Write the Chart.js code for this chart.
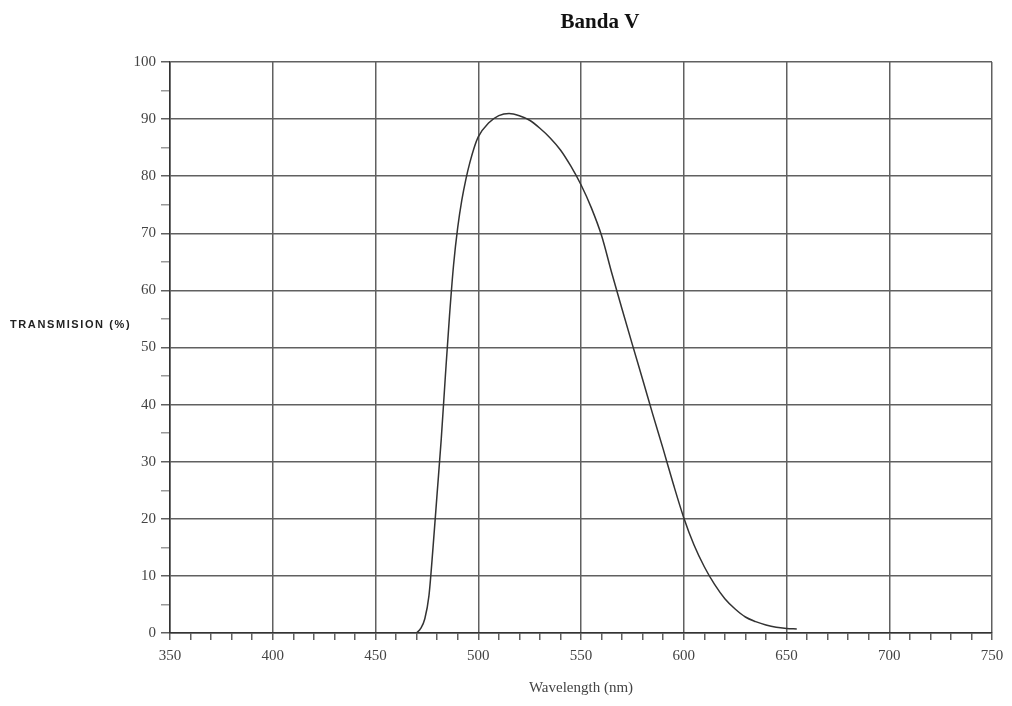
<!DOCTYPE html>
<html>
<head>
<meta charset="utf-8">
<script src="https://cdn.jsdelivr.net/npm/chart.js@4.4.0/dist/chart.umd.min.js"></script>
<style>
  html, body { margin: 0; padding: 0; background: #fff; }
  #wrap { width: 1012px; height: 706px; position: relative; }
</style>
</head>
<body>
<div id="wrap"><canvas id="myChart" width="1012" height="706"></canvas></div>
<script>
const chartTitle = 'Banda V'
const yTitle = 'TRANSMISION (%)'
const xTitle = 'Wavelength (nm)'

// curve
const wavelength = [470, 472, 474, 476, 478, 480, 482, 484, 486, 488, 490, 492, 494, 496, 498, 500,
  505, 510, 515, 520, 525, 530, 535, 540, 545, 550, 555, 560, 565, 570, 575, 580, 585, 590, 595,
  600, 605, 610, 615, 620, 625, 630, 635, 640, 645, 650, 655]
const transmission = [0, 0.8, 2.5, 6.5, 15, 24.5, 34, 45, 55.5, 64.5, 71, 75.8, 79.5, 82.5, 85, 86.9,
  89.3, 90.6, 91, 90.6, 89.8, 88.4, 86.7, 84.6, 81.8, 78.5, 74.5, 69.6, 63, 56.7, 50.5, 44.4, 38.2, 32.2, 26,
  20.2, 15.4, 11.6, 8.5, 6, 4.2, 2.8, 2, 1.4, 1, 0.8, 0.7]

const xMin = 350
const xMax = 750
const yMin = 0
const yMax = 100

const gridColor = '#606060'
const textColor = '#444'

const points = wavelength.map((w, i) => ({ x: w, y: transmission[i] }))

// title and horizontal y label are drawn on the canvas by hand
const extraText = {
  id: 'extraText',
  afterDraw(chart) {
    const ctx = chart.ctx
    ctx.save()
    ctx.fillStyle = '#111'
    ctx.font = 'bold 21px "Liberation Serif", serif'
    ctx.textAlign = 'center'
    ctx.textBaseline = 'middle'
    ctx.fillText(chartTitle, 600, 23)

    const area = chart.chartArea
    ctx.font = 'bold 11px "Liberation Sans", Arial, sans-serif'
    ctx.letterSpacing = '1.6px'
    ctx.textAlign = 'left'
    ctx.fillStyle = '#222'
    ctx.fillText(yTitle, 10, (area.top + area.bottom) / 2 - 23)
    ctx.restore()
  }
}

const ctx = document.getElementById('myChart').getContext('2d')
const myChart = new Chart(ctx, {
  type: 'line',
  data: {
    datasets: [
      {
        data: points,
        borderColor: '#333',
        borderWidth: 1.5,
        pointRadius: 0,
        cubicInterpolationMode: 'monotone',
        fill: false,
      },
    ],
  },
  options: {
    responsive: false,
    animation: false,
    layout: { padding: { left: 110, right: 20, top: 62, bottom: 5 } },
    plugins: {
      legend: { display: false },
      tooltip: { enabled: false },
    },
    scales: {
      x: {
        type: 'linear',
        min: xMin,
        max: xMax,
        afterFit: (scale) => { scale.height = 68 },
        border: { color: '#333', width: 1.5 },
        grid: {
          color: (c) => (c.tick && c.tick.value % 50 === 0 ? gridColor : 'rgba(0,0,0,0)'),
          lineWidth: 1.5,
          tickColor: gridColor,
          tickLength: 7,
        },
        ticks: {
          stepSize: 10,
          autoSkip: false,
          maxRotation: 0,
          padding: 7,
          color: textColor,
          font: { family: '"Liberation Serif", serif', size: 15 },
          callback: (v) => (v % 50 === 0 ? v : ''),
        },
        title: {
          display: true,
          text: xTitle,
          color: textColor,
          padding: { top: 6 },
          font: { family: '"Liberation Serif", serif', size: 15 },
        },
      },
      y: {
        min: yMin,
        max: yMax,
        afterFit: (scale) => { scale.width = 60 },
        border: { color: '#333', width: 1.5 },
        grid: {
          color: (c) => (c.tick && c.tick.value % 10 === 0 ? gridColor : 'rgba(0,0,0,0)'),
          lineWidth: 1.5,
          tickColor: (c) => (c.tick && c.tick.value % 10 === 0 ? gridColor : '#999'),
          tickLength: 9,
        },
        ticks: {
          stepSize: 5,
          autoSkip: false,
          padding: 5,
          color: textColor,
          font: { family: '"Liberation Serif", serif', size: 15 },
          callback: (v) => (v % 10 === 0 ? v : ''),
        },
      },
    },
  },
  plugins: [extraText],
})
</script>
</body>
</html>
